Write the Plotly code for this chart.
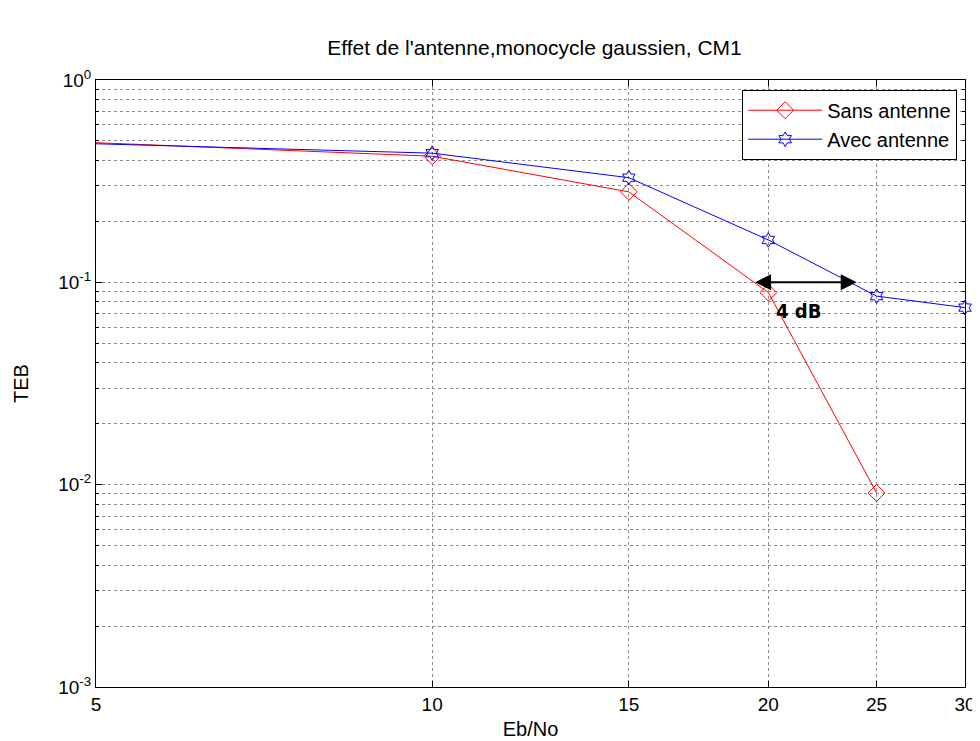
import numpy as np
import plotly.graph_objects as go

# ---- data ----
ebno = [5, 10, 15, 20, 25, 30]
sans_antenne_x = [5, 10, 15, 20, 25]
sans_antenne = [0.49, 0.42, 0.28, 0.089, 0.0091]
avec_antenne_x = [5, 10, 15, 20, 25, 30]
avec_antenne = [0.484, 0.435, 0.329, 0.162, 0.0855, 0.075]

x_ticks = [5, 10, 15, 20, 25, 30]
x_ticklabels = ["5", "10", "15", "20", "25", "30"]
y_ticks = [1e-3, 1e-2, 1e-1, 1]
y_ticklabels = ["10<sup>-3</sup>", "10<sup>-2</sup>", "10<sup>-1</sup>", "10<sup>0</sup>"]

arrow_x_start = 19.4
arrow_x_end = 24.0
arrow_y = 0.1
gain_label = "4 dB"
gain_label_x = 21.3
gain_label_y = 0.072

title_text = "Effet de l'antenne,monocycle gaussien, CM1"
x_title = "Eb/No"
y_title = "TEB"

FONT = "Liberation Sans, Arial, Helvetica, sans-serif"

fig = go.Figure()
fig.add_trace(go.Scatter(
    x=sans_antenne_x, y=sans_antenne, mode="lines+markers", name="Sans antenne",
    line=dict(color="#FF0000", width=1), cliponaxis=False,
    marker=dict(symbol="diamond-open", size=13, color="#FF0000", line=dict(width=1)),
))
fig.add_trace(go.Scatter(
    x=avec_antenne_x, y=avec_antenne, mode="lines+markers", name="Avec antenne",
    line=dict(color="#0000FF", width=1), cliponaxis=False,
    marker=dict(symbol="hexagram-open", size=11, color="#0000FF", line=dict(width=1)),
))

# double-headed arrow (annotation coordinates on log axes are in log10 units)
fig.add_annotation(
    x=np.log10(arrow_x_end), y=np.log10(arrow_y),
    ax=np.log10(arrow_x_start), ay=np.log10(arrow_y),
    xref="x", yref="y", axref="x", ayref="y",
    showarrow=True, arrowhead=2, startarrowhead=2, arrowside="end+start",
    arrowsize=1.6, startarrowsize=1.6, arrowwidth=2, arrowcolor="black", text="",
)
fig.add_annotation(
    x=np.log10(gain_label_x), y=np.log10(gain_label_y), xref="x", yref="y",
    text="<b>" + gain_label + "</b>", showarrow=False,
    font=dict(family="DejaVu Sans Condensed, Liberation Sans Narrow, Arial Narrow, sans-serif",
              size=20, color="black"),
    xanchor="center", yanchor="middle",
)

axis_common = dict(
    showline=True, linecolor="black", linewidth=1, mirror="allticks",
    ticks="inside", ticklen=6, tickcolor="black",
    showgrid=True, gridcolor="#8c8c8c", griddash="dot", gridwidth=1,
    zeroline=False, tickfont=dict(family=FONT, size=19, color="black"),
)

fig.update_xaxes(
    type="log", range=[np.log10(5), np.log10(30)],
    tickmode="array", tickvals=x_ticks, ticktext=x_ticklabels,
    title=dict(text=x_title, font=dict(family=FONT, size=20, color="black"), standoff=8),
    **axis_common,
)
fig.update_yaxes(
    type="log", range=[-3, 0],
    tickmode="array", tickvals=y_ticks, ticktext=y_ticklabels,
    title=dict(text=y_title, font=dict(family=FONT, size=20, color="black"), standoff=24),
    minor=dict(dtick="D1", ticks="inside", ticklen=3, tickcolor="black",
               showgrid=True, gridcolor="#8c8c8c", griddash="dot", gridwidth=1),
    **axis_common,
)

fig.update_layout(
    width=980, height=741,
    margin=dict(l=87, r=14, t=72, b=54),
    paper_bgcolor="white", plot_bgcolor="white",
    title=dict(text=title_text, font=dict(family=FONT, size=21, color="black"),
               x=(87 + 966) / 2 / 980, xanchor="center", y=1 - 40 / 741, yanchor="middle"),
    legend=dict(
        x=0.991, y=0.984, xanchor="right", yanchor="top",
        bgcolor="white", bordercolor="black", borderwidth=1,
        font=dict(family=FONT, size=20, color="black"),
        itemwidth=74, tracegroupgap=0,
    ),
    showlegend=True,
)

fig.write_html("out.html")
